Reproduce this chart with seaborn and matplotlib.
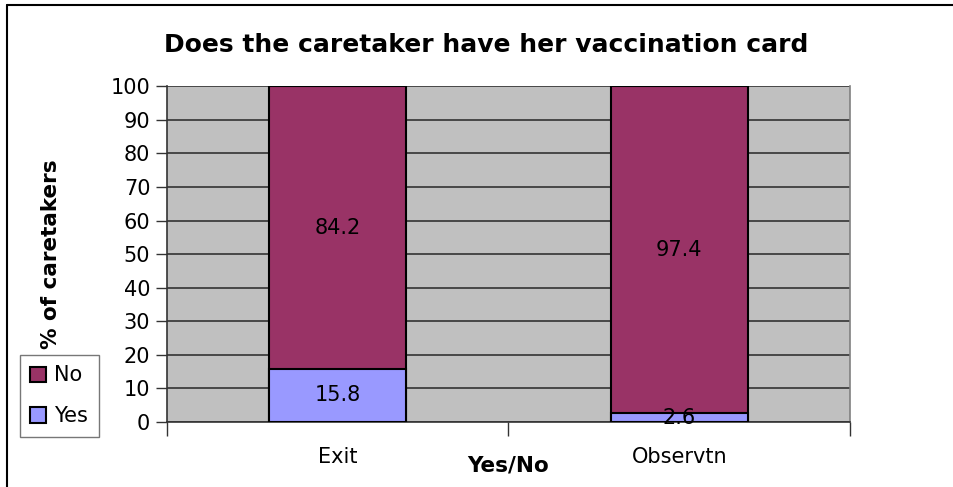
import matplotlib
matplotlib.use("Agg")
import matplotlib.pyplot as plt
import seaborn as sns
import pandas as pd
from matplotlib.patches import Patch
from matplotlib.lines import Line2D
from matplotlib.ticker import FixedLocator

categories = ["Exit", "Observtn"]
yes_vals = [15.8, 2.6]
no_vals = [84.2, 97.4]
yticks = list(range(0, 101, 10))

sns.set_theme(style="white")
plt.rcParams['font.family'] = ['DejaVu Sans']
plt.rcParams['text.color'] = 'black'
plt.rcParams['axes.labelcolor'] = 'black'
plt.rcParams['xtick.color'] = 'black'
plt.rcParams['ytick.color'] = 'black'

C_NO = "#993366"
C_YES = "#9999FF"
BG = "#C0C0C0"
FS = 15

df = pd.DataFrame({"cat": categories, "yes": yes_vals, "no": no_vals})
df["total"] = df["yes"] + df["no"]

fig = plt.figure(figsize=(9.54, 4.87), dpi=100)
ax = fig.add_axes([0.175, 0.1335, 0.716, 0.6895])
ax.set_facecolor(BG)

sns.barplot(data=df, x="cat", y="total", color=C_NO, width=0.4,
            edgecolor="black", linewidth=1.5, saturation=1, ax=ax, zorder=3)
sns.barplot(data=df, x="cat", y="yes", color=C_YES, width=0.4,
            edgecolor="black", linewidth=1.5, saturation=1, ax=ax, zorder=4)

for i, (y, n) in enumerate(zip(yes_vals, no_vals)):
    ax.text(i, y + n / 2, f"{n}", ha="center", va="center", fontsize=FS, zorder=5)
    ax.text(i, y / 2, f"{y}", ha="center", va="center", fontsize=FS, zorder=5)

ax.set_xlim(-0.5, 1.5)
ax.set_ylim(0, 100)
ax.set_yticks(yticks)
ax.yaxis.grid(True, color="#333333", linewidth=1.2, zorder=1)
ax.set_axisbelow(True)
ax.tick_params(axis="y", length=8, width=1, color="#333333", labelsize=FS, pad=4, left=True)
ax.tick_params(axis="x", which="major", length=0, labelsize=FS, pad=18)
ax.xaxis.set_minor_locator(FixedLocator([-0.5, 0.5, 1.5]))
ax.tick_params(axis="x", which="minor", length=10, width=1, color="#333333", bottom=True)

ax.spines["top"].set_visible(False)
ax.spines["left"].set_color("#333333")
ax.spines["bottom"].set_color("#333333")
ax.spines["right"].set_color("#808080")
for s in ["left", "bottom", "right"]:
    ax.spines[s].set_linewidth(1.2)

ax.set_xlabel("Yes/No", fontsize=15.5, fontweight="bold", labelpad=-8)
ax.set_ylabel("% of caretakers", fontsize=15.5, fontweight="bold", labelpad=36)
fig.text(0.51, 0.907, "Does the caretaker have her vaccination card",
         ha="center", va="center", fontsize=18, fontweight="bold")

handles = [Patch(facecolor=C_NO, edgecolor="black", linewidth=1.5, label="No"),
           Patch(facecolor=C_YES, edgecolor="black", linewidth=1.5, label="Yes")]
leg = fig.legend(handles=handles, loc="upper left", bbox_to_anchor=(0.021, 0.271),
                 frameon=True, fancybox=False, fontsize=FS, handlelength=0.75,
                 handleheight=0.75, handletextpad=0.4, labelspacing=1.0,
                 borderpad=0.5, borderaxespad=0)
leg.get_frame().set_edgecolor("#555555")
leg.get_frame().set_linewidth(1)

fig.add_artist(Line2D([0.0075, 0.0075], [0.0, 0.99], transform=fig.transFigure,
                      color="black", linewidth=1.5))
fig.add_artist(Line2D([0.0075, 1.0], [0.99, 0.99], transform=fig.transFigure,
                      color="black", linewidth=1.5))

fig.savefig("out.png", dpi=100)
